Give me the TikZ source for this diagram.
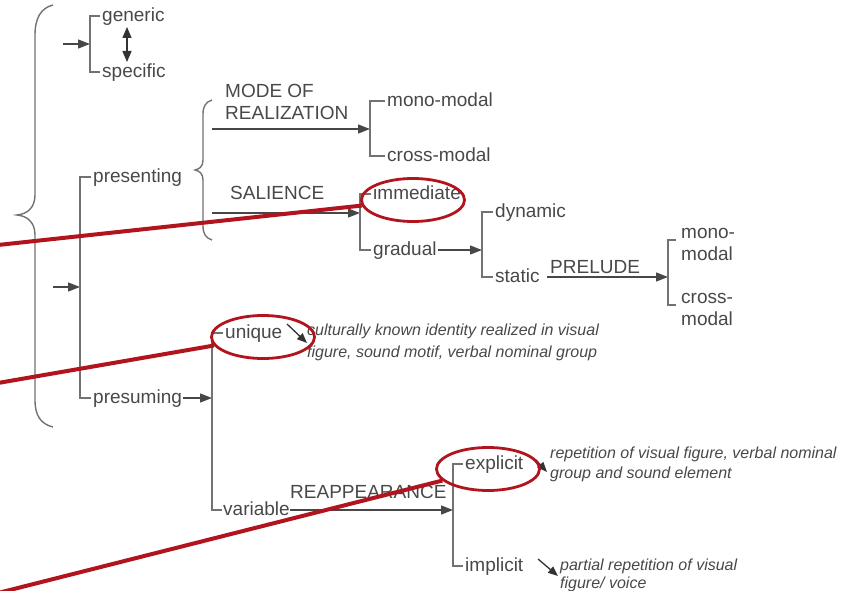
\documentclass[tikz,border=0pt]{standalone}
\usepackage{fontspec}
\setmainfont{Liberation Sans}
\usetikzlibrary{arrows.meta,shapes.geometric}
\definecolor{inkgray}{HTML}{484848}
\definecolor{rulegray}{HTML}{727272}
\definecolor{markred}{HTML}{B2141E}
\tikzset{
  lbl/.style={anchor=west, inner sep=0pt, text height=11pt, text depth=0pt,
    text=inkgray, font=\fontsize{19}{21}\selectfont},
  caps/.style={anchor=base west, inner sep=0pt, text=inkgray,
    font=\fontsize{19}{21}\selectfont},
  note/.style={anchor=base west, inner sep=0pt, text=inkgray,
    font=\fontsize{16}{18}\selectfont\itshape},
  brk/.style={draw=rulegray, line width=1.4pt},
  feed/.style={draw=black!72, line width=1.3pt, -{Triangle[length=12pt,width=9pt]}},
  hint/.style={draw=black!80, line width=1.3pt, -{Triangle[length=10pt,width=8pt]}},
  both/.style={draw=black!80, line width=1.3pt, {Triangle[length=11pt,width=9pt]}-{Triangle[length=11pt,width=9pt]}},
  ring/.style={ellipse, draw=markred, line width=2.8pt, minimum width=103pt,
    minimum height=43pt, inner sep=0pt},
  pointer/.style={draw=markred, line width=4pt},
}
\begin{document}
\begin{tikzpicture}[x=1pt,y=-1pt]
\useasboundingbox (0,0) rectangle (843,591);
\clip (0,0) rectangle (843,591);

% outer brace
\draw[brk] (53,5) .. controls (41,8) and (35,18) .. (35,35) -- (35,195)
  .. controls (35,207) and (28,214) .. (17,215)
  .. controls (28,216) and (35,223) .. (35,235) -- (35,400)
  .. controls (35,416) and (41,424) .. (53,427);

% generic / specific
\node[lbl] (gen) at (102,16) {generic};
\node[lbl] (spec) at (102,72) {specific};
\coordinate (inGS) at (63,44);
\coordinate (bGS) at (90,44);
\draw[feed] (inGS) -- (bGS);
\draw[brk] ([xshift=-2pt]gen.west) -| (bGS) |- ([xshift=-2pt]spec.west);
\coordinate (gsTop) at (127,27);
\coordinate (gsBot) at (127,62);
\draw[both] (gsTop) -- (gsBot);

% presenting / presuming
\node[lbl] (pres) at (93,177) {presenting};
\node[lbl] (presu) at (93,398) {presuming};
\coordinate (inPP) at (53,287);
\coordinate (bPP) at (80,287);
\draw[feed] (inPP) -- (bPP);
\draw[brk] ([xshift=-2pt]pres.west) -| (bPP) |- ([xshift=-2pt]presu.west);

% brace after presenting
\draw[brk] (212,100) .. controls (206,102) and (203,106) .. (203,114) -- (203,160)
  .. controls (203,166) and (200,169) .. (195,170)
  .. controls (200,171) and (203,174) .. (203,180) -- (203,226)
  .. controls (203,234) and (206,238) .. (212,240);

% MODE OF REALIZATION
\node[caps] (modeA) at (225,98) {MODE OF};
\node[caps] (modeB) at (225,120) {REALIZATION};
\node[lbl] (mono) at (387,101) {mono-modal};
\node[lbl] (cross) at (387,156) {cross-modal};
\coordinate (inMR) at (212,129);
\coordinate (bMR) at (370,129);
\draw[feed] (inMR) -- (bMR);
\draw[brk] ([xshift=-2pt]mono.west) -| (bMR) |- ([xshift=-2pt]cross.west);

% SALIENCE
\node[caps] (sal) at (230,199) {SALIENCE};
\node[lbl] (imm) at (373,194) {immediate};
\node[lbl] (grad) at (373,250) {gradual};
\coordinate (inSA) at (212,213);
\coordinate (bSA) at (360,213);
\draw[feed] (inSA) -- (bSA);
\draw[brk] ([xshift=-2pt]imm.west) -| (bSA) |- ([xshift=-2pt]grad.west);

% dynamic / static
\node[lbl] (dyn) at (495,212) {dynamic};
\node[lbl] (stat) at (495,277) {static};
\coordinate (bDS) at (482,250);
\draw[feed] ([xshift=1pt]grad.east) -- (bDS);
\draw[brk] ([xshift=-2pt]dyn.west) -| (bDS) |- ([xshift=-2pt]stat.west);

% PRELUDE
\node[caps] (prel) at (550,273) {PRELUDE};
\coordinate (bPR) at (668,277);
\draw[feed] ([xshift=7pt]stat.east) -- (bPR);
\node[caps] (monoA) at (681,238) {mono-};
\node[caps] (monoB) at (681,260) {modal};
\node[caps] (crossA) at (681,303) {cross-};
\node[caps] (crossB) at (681,325) {modal};
\coordinate (prTop) at (676,240);
\coordinate (prBot) at (676,305);
\draw[brk] (prTop) -| (bPR) |- (prBot);

% unique / variable
\node[lbl] (uniq) at (225,333) {unique};
\node[lbl] (var) at (223,510) {variable};
\coordinate (bUV) at (212,398);
\draw[feed] ([xshift=1pt]presu.east) -- (bUV);
\draw[brk] ([xshift=-2pt]uniq.west) -| (bUV) |- ([xshift=-1pt]var.west);
\coordinate (uqA) at (287,324);
\coordinate (uqB) at (307,343);
\draw[hint] (uqA) -- (uqB);
\node[note] (uqN1) at (307,335) {culturally known identity realized in visual};
\node[note] (uqN2) at (307,357) {figure, sound motif, verbal nominal group};

% REAPPEARANCE
\node[caps] (reap) at (290,498) {REAPPEARANCE};
\node[lbl] (expl) at (465,464) {explicit};
\node[lbl] (impl) at (465,566) {implicit};
\coordinate (bEI) at (453,510);
\draw[feed] (var.east) -- (bEI);
\draw[brk] ([xshift=-2pt]expl.west) -| (bEI) |- ([xshift=-2pt]impl.west);
\coordinate (exA) at (536,460);
\coordinate (exB) at (547,472);
\draw[hint] (exA) -- (exB);
\node[note] (exN1) at (550,458) {repetition of visual figure, verbal nominal};
\node[note] (exN2) at (550,478) {group and sound element};
\coordinate (imA) at (538,559);
\coordinate (imB) at (558,576);
\draw[hint] (imA) -- (imB);
\node[note] (imN1) at (560,570) {partial repetition of visual};
\node[note] (imN2) at (560,588) {figure/ voice};

% red highlights
\node[ring] (ringImm) at (413,200) {};
\node[ring] (ringUniq) at (263,337) {};
\node[ring] (ringExpl) at (488,469) {};
\coordinate (ptA) at (-2,245);
\coordinate (ptB) at (-2,383);
\coordinate (ptC) at (-2,593);
\draw[pointer] (ptA) -- (ringImm);
\draw[pointer] (ptB) -- (ringUniq);
\draw[pointer] (ptC) -- (ringExpl);
\end{tikzpicture}
\end{document}
